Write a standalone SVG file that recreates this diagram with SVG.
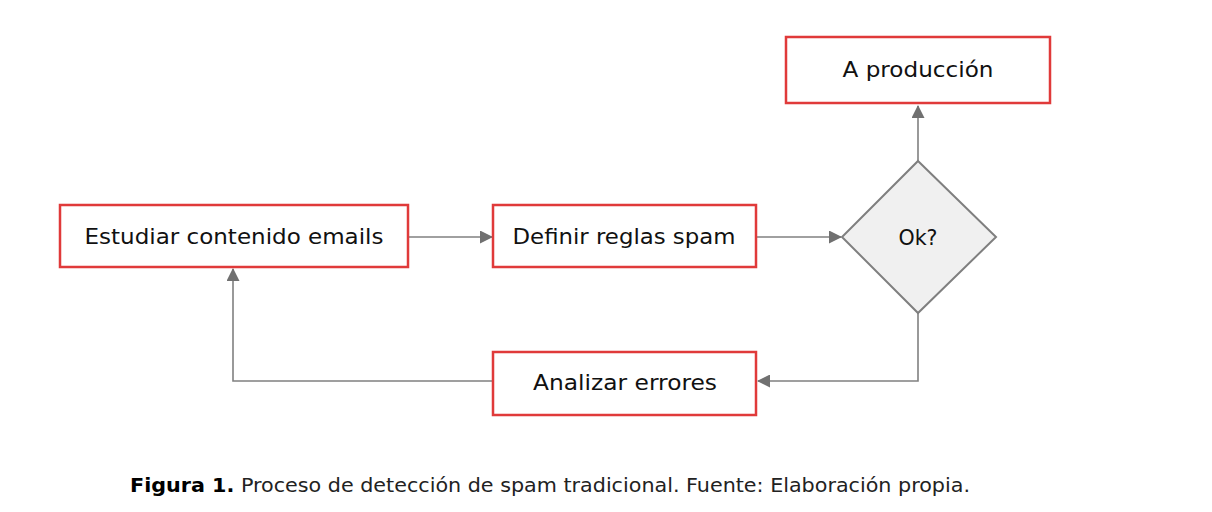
<svg xmlns="http://www.w3.org/2000/svg" width="1212" height="512" viewBox="0 0 1212 512">
<defs>
<style>
.box{fill:#fff;stroke:#e03a3a;stroke-width:2.5}
.dia{fill:#f0f0f0;stroke:#7f7f7f;stroke-width:2}
.lbl{font-family:"DejaVu Sans",sans-serif;font-size:20.5px;fill:#111;text-anchor:middle}
.con{fill:none;stroke:#808080;stroke-width:1.6}
.cap{font-family:"DejaVu Sans",sans-serif;font-size:20px;fill:#222}
</style>
<marker id="ah" markerWidth="13" markerHeight="13" refX="12" refY="6.5" orient="auto" markerUnits="userSpaceOnUse">
<path d="M0,0 L13,6.5 L0,13 Z" fill="#707070"/>
</marker>
</defs>
<rect width="1212" height="512" fill="#fff"/>
<g id="connectors">
<line class="con" x1="409" y1="237" x2="492" y2="237" marker-end="url(#ah)"/>
<line class="con" x1="757" y1="237" x2="841" y2="237" marker-end="url(#ah)"/>
<line class="con" x1="918" y1="161" x2="918" y2="106" marker-end="url(#ah)"/>
<polyline class="con" points="918,313 918,381 758,381" marker-end="url(#ah)"/>
<polyline class="con" points="493,381 233,381 233,269" marker-end="url(#ah)"/>
</g>
<g id="n-estudiar">
<rect class="box" x="60" y="205" width="348" height="62"/>
<text class="lbl" x="234" y="244" textLength="299" lengthAdjust="spacingAndGlyphs">Estudiar contenido emails</text>
</g>
<g id="n-definir">
<rect class="box" x="493" y="205" width="263" height="62"/>
<text class="lbl" x="624" y="244" textLength="223" lengthAdjust="spacingAndGlyphs">Definir reglas spam</text>
</g>
<g id="n-produccion">
<rect class="box" x="786" y="37" width="264" height="66"/>
<text class="lbl" x="918" y="77" textLength="151" lengthAdjust="spacingAndGlyphs">A producción</text>
</g>
<g id="n-ok">
<polygon class="dia" points="918,161 996,237 918,313 842,237"/>
<text class="lbl" x="918" y="245" textLength="39" lengthAdjust="spacingAndGlyphs">Ok?</text>
</g>
<g id="n-analizar">
<rect class="box" x="493" y="352" width="263" height="63"/>
<text class="lbl" x="625" y="390" textLength="184" lengthAdjust="spacingAndGlyphs">Analizar errores</text>
</g>
<g id="caption">
<text class="cap" x="130" y="492" textLength="840" lengthAdjust="spacingAndGlyphs"><tspan font-weight="bold" fill="#000">Figura 1.</tspan> Proceso de detección de spam tradicional. Fuente: Elaboración propia.</text>
</g>
</svg>
